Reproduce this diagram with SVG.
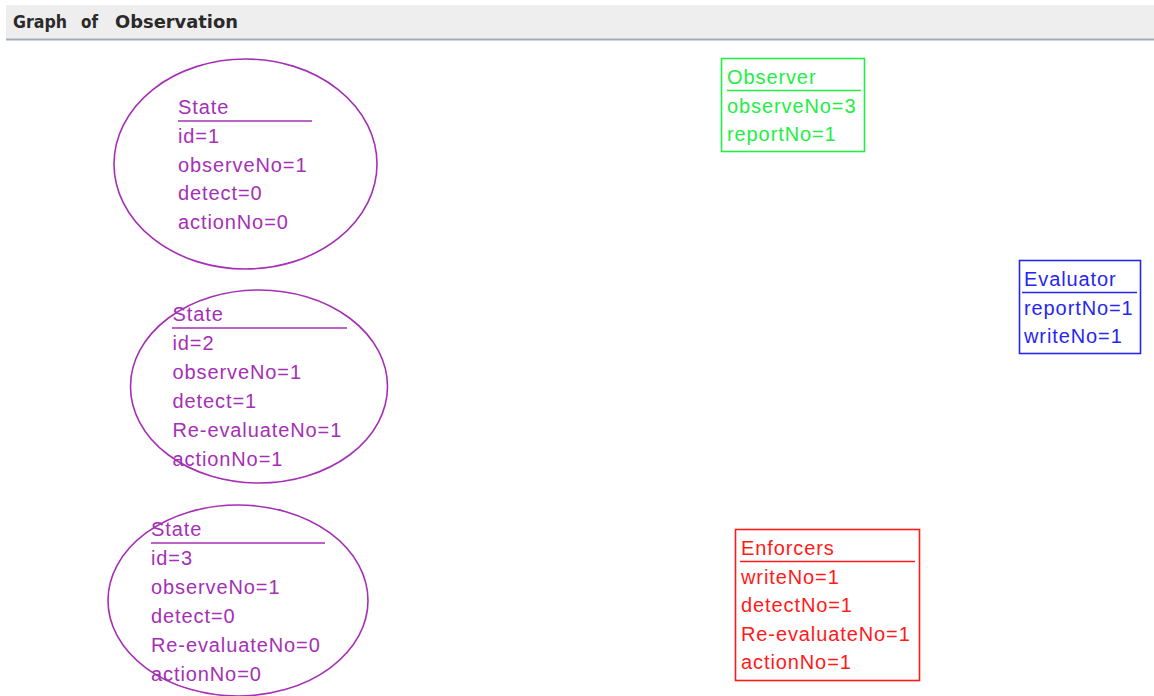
<svg xmlns="http://www.w3.org/2000/svg" width="1154" height="696" viewBox="0 0 1154 696">
  <style>
    .lbl { font-family: "Liberation Sans", Arial, sans-serif; font-size: 20px; letter-spacing: 0.9px; }
    .title { font-family: "DejaVu Sans", "Liberation Sans", sans-serif; font-size: 18px; font-weight: bold; fill: #2a2a2a; }
    .state { fill: #a52fb5; }
    .state-shape { fill: none; stroke: #a52fb5; stroke-width: 1.6; }
    .obs { fill: #22ee44; }
    .obs-shape { fill: none; stroke: #22ee44; stroke-width: 1.6; }
    .eva { fill: #2626f0; }
    .eva-shape { fill: none; stroke: #2626f0; stroke-width: 1.6; }
    .enf { fill: #ff1a1a; }
    .enf-shape { fill: none; stroke: #ff1a1a; stroke-width: 1.6; }
  </style>
  <rect width="1154" height="696" fill="#ffffff"/>

  <!-- title bar -->
  <g id="header">
    <rect x="6" y="5" width="1148" height="34" fill="#eeeeee"/>
    <line x1="6" y1="39.5" x2="1154" y2="39.5" stroke="#a3adb7" stroke-width="2"/>
    <text class="title" x="13" y="28" textLength="54" lengthAdjust="spacingAndGlyphs">Graph</text>
    <text class="title" x="81" y="28" textLength="17" lengthAdjust="spacingAndGlyphs">of</text>
    <text class="title" x="115" y="28" textLength="123" lengthAdjust="spacingAndGlyphs">Observation</text>
  </g>

  <!-- no connectors in this graph -->
  <g id="connectors"/>

  <g id="state1">
    <ellipse class="state-shape" cx="245.5" cy="164" rx="131.5" ry="105"/>
    <line class="state-shape" x1="178" y1="121" x2="312" y2="121"/>
    <g class="lbl state">
      <text x="178" y="114">State</text>
      <text x="178" y="143">id=1</text>
      <text x="178" y="172">observeNo=1</text>
      <text x="178" y="200">detect=0</text>
      <text x="178" y="229">actionNo=0</text>
    </g>
  </g>

  <g id="state2">
    <ellipse class="state-shape" cx="259" cy="386.5" rx="128.5" ry="96.5"/>
    <line class="state-shape" x1="172" y1="328" x2="347" y2="328"/>
    <g class="lbl state">
      <text x="172.5" y="321">State</text>
      <text x="172.5" y="350">id=2</text>
      <text x="172.5" y="379">observeNo=1</text>
      <text x="172.5" y="408">detect=1</text>
      <text x="172.5" y="437">Re-evaluateNo=1</text>
      <text x="172.5" y="466">actionNo=1</text>
    </g>
  </g>

  <g id="state3">
    <ellipse class="state-shape" cx="238" cy="600.5" rx="130" ry="95.5"/>
    <line class="state-shape" x1="151" y1="543" x2="325" y2="543"/>
    <g class="lbl state">
      <text x="151" y="536">State</text>
      <text x="151" y="565">id=3</text>
      <text x="151" y="594">observeNo=1</text>
      <text x="151" y="623">detect=0</text>
      <text x="151" y="652">Re-evaluateNo=0</text>
      <text x="151" y="681">actionNo=0</text>
    </g>
  </g>

  <g id="observer">
    <rect class="obs-shape" x="721.5" y="58.5" width="143" height="93"/>
    <line class="obs-shape" x1="727" y1="90.5" x2="861" y2="90.5"/>
    <g class="lbl obs">
      <text x="727" y="84">Observer</text>
      <text x="727" y="113">observeNo=3</text>
      <text x="727" y="141">reportNo=1</text>
    </g>
  </g>

  <g id="evaluator">
    <rect class="eva-shape" x="1019.5" y="260.5" width="121" height="93"/>
    <line class="eva-shape" x1="1022" y1="292.5" x2="1137" y2="292.5"/>
    <g class="lbl eva">
      <text x="1024" y="286">Evaluator</text>
      <text x="1024" y="315">reportNo=1</text>
      <text x="1024" y="343">writeNo=1</text>
    </g>
  </g>

  <g id="enforcers">
    <rect class="enf-shape" x="735.5" y="529.5" width="184" height="151"/>
    <line class="enf-shape" x1="740" y1="561.5" x2="915" y2="561.5"/>
    <g class="lbl enf">
      <text x="741" y="555">Enforcers</text>
      <text x="741" y="584">writeNo=1</text>
      <text x="741" y="612">detectNo=1</text>
      <text x="741" y="641">Re-evaluateNo=1</text>
      <text x="741" y="669">actionNo=1</text>
    </g>
  </g>
</svg>
